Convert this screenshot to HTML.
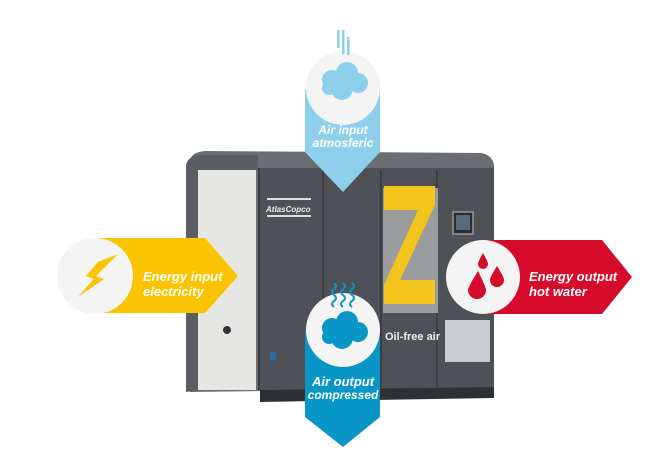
<!DOCTYPE html>
<html><head><meta charset="utf-8"><style>
html,body{margin:0;padding:0;background:#fff;}
svg{display:block;}
text{font-family:"Liberation Sans",sans-serif;font-weight:bold;font-style:italic;fill:#fff;}
</style></head><body>
<svg width="647" height="463" viewBox="0 0 647 463" xmlns="http://www.w3.org/2000/svg">
<!-- machine -->
<path d="M190 160 Q192 152 205 151 L480 153 Q492 154 494 165 L494 388 L190 392 Z" fill="#6a6e73"/>
<path d="M186 165 Q188 156 200 155 L258 155 L258 170 L200 170 L200 390 L186 392 Z" fill="#5a5e63"/>
<rect x="198" y="170" width="58" height="220" fill="#e6e6e4"/>
<rect x="258" y="168" width="236" height="222" fill="#4e5257"/>
<rect x="258" y="168" width="2" height="222" fill="#3a3d41"/>
<rect x="322" y="170" width="2" height="217" fill="#3a3d41"/>
<rect x="380" y="170" width="2" height="217" fill="#3a3d41"/>
<rect x="436" y="170" width="2" height="217" fill="#3a3d41"/>
<path d="M260 390 L494 387 L494 398 L260 402 Z" fill="#2e3033"/>
<!-- Z -->
<rect x="383" y="188" width="55" height="125" fill="#9a9c9e"/>
<path d="M384 186 L435 186 L435 205 L400 280 L435 280 L435 304 L384 304 L384 285 L418 210 L384 210 Z" fill="#f3c31e"/>
<!-- panel -->
<rect x="453" y="212" width="20" height="22" fill="#2a2c2e" stroke="#999" stroke-width="1.5"/>
<rect x="456" y="215" width="14" height="15" fill="#5a6a78"/>
<rect x="445" y="320" width="45" height="42" fill="#c9cbcd"/>
<text x="266" y="212" font-size="8" style="font-style:italic;fill:#eee">AtlasCopco</text>
<rect x="267" y="198" width="44" height="2" fill="#ddd"/><rect x="267" y="215" width="44" height="2" fill="#ddd"/>
<text x="385" y="340" font-size="11" style="fill:#eee;font-style:normal">Oil-free air</text>
<rect x="270" y="352" width="6" height="8" fill="#2a6ea8"/>
<circle cx="227" cy="330" r="4" fill="#333"/>
<!-- top arrow -->
<path d="M305 90 L380 90 L380 152 L343 192 L305 152 Z" fill="#8ecfec"/>
<circle cx="343" cy="88" r="37" fill="#f4f4f4"/>
<rect x="337" y="30" width="2.5" height="18" fill="#8ecfec"/><rect x="342" y="30" width="2.5" height="24" fill="#8ecfec"/><rect x="347" y="37" width="2.5" height="18" fill="#8ecfec"/>
<g fill="#8ecfec"><circle cx="332" cy="80" r="10"/><circle cx="347" cy="73" r="11"/><circle cx="358" cy="83" r="10"/><circle cx="342" cy="89" r="11"/><circle cx="329" cy="88" r="7"/></g>
<text x="343" y="134" font-size="12" text-anchor="middle">Air input</text>
<text x="343" y="147" font-size="12" text-anchor="middle">atmosferic</text>
<!-- left arrow -->
<path d="M95 238 L205 238 L238 276 L205 313 L95 313 Z" fill="#fbc300"/>
<circle cx="95" cy="276" r="38" fill="#f4f4f4"/>
<path d="M118 254 L96 276 L104 279 L78 297 L94 279 L86 276 L98 262 Z" fill="#fbc300"/>
<text x="143" y="281" font-size="13">Energy input</text>
<text x="143" y="296" font-size="13">electricity</text>
<!-- right arrow -->
<path d="M483 240 L602 240 L632 277 L602 314 L483 314 Z" fill="#d60b2c"/>
<circle cx="483" cy="277" r="37" fill="#f4f4f4"/>
<g fill="#d60b2c"><path d="M483 253 Q478 262 478 264 A5 5 0 0 0 488 264 Q488 262 483 253Z"/><path d="M497 266 Q490 277 490 280 A7 7 0 0 0 504 280 Q504 277 497 266Z"/><path d="M478 271 Q468 287 468 290 A9 9 0 0 0 486 290 Q486 287 478 271Z"/></g>
<text x="529" y="281" font-size="13">Energy output</text>
<text x="529" y="296" font-size="13">hot water</text>
<!-- bottom arrow -->
<path d="M305 330 L380 330 L380 417 L343 447 L305 417 Z" fill="#0896c6"/>
<circle cx="343" cy="330" r="37" fill="#f4f4f4"/>
<g stroke="#0896c6" stroke-width="2" fill="none"><path d="M334 283 q4 3 0 6 q-4 3 0 6 q4 3 0 6 q-4 3 0 6"/><path d="M343 283 q4 3 0 6 q-4 3 0 6 q4 3 0 6 q-4 3 0 6"/><path d="M352 283 q4 3 0 6 q-4 3 0 6 q4 3 0 6 q-4 3 0 6"/></g>
<g fill="#0896c6"><circle cx="332" cy="328" r="10"/><circle cx="347" cy="322" r="11"/><circle cx="358" cy="332" r="10"/><circle cx="342" cy="338" r="11"/><circle cx="329" cy="337" r="7"/></g>
<text x="343" y="386" font-size="13" text-anchor="middle">Air output</text>
<text x="343" y="399" font-size="12" text-anchor="middle">compressed</text>
</svg>
</body></html>
